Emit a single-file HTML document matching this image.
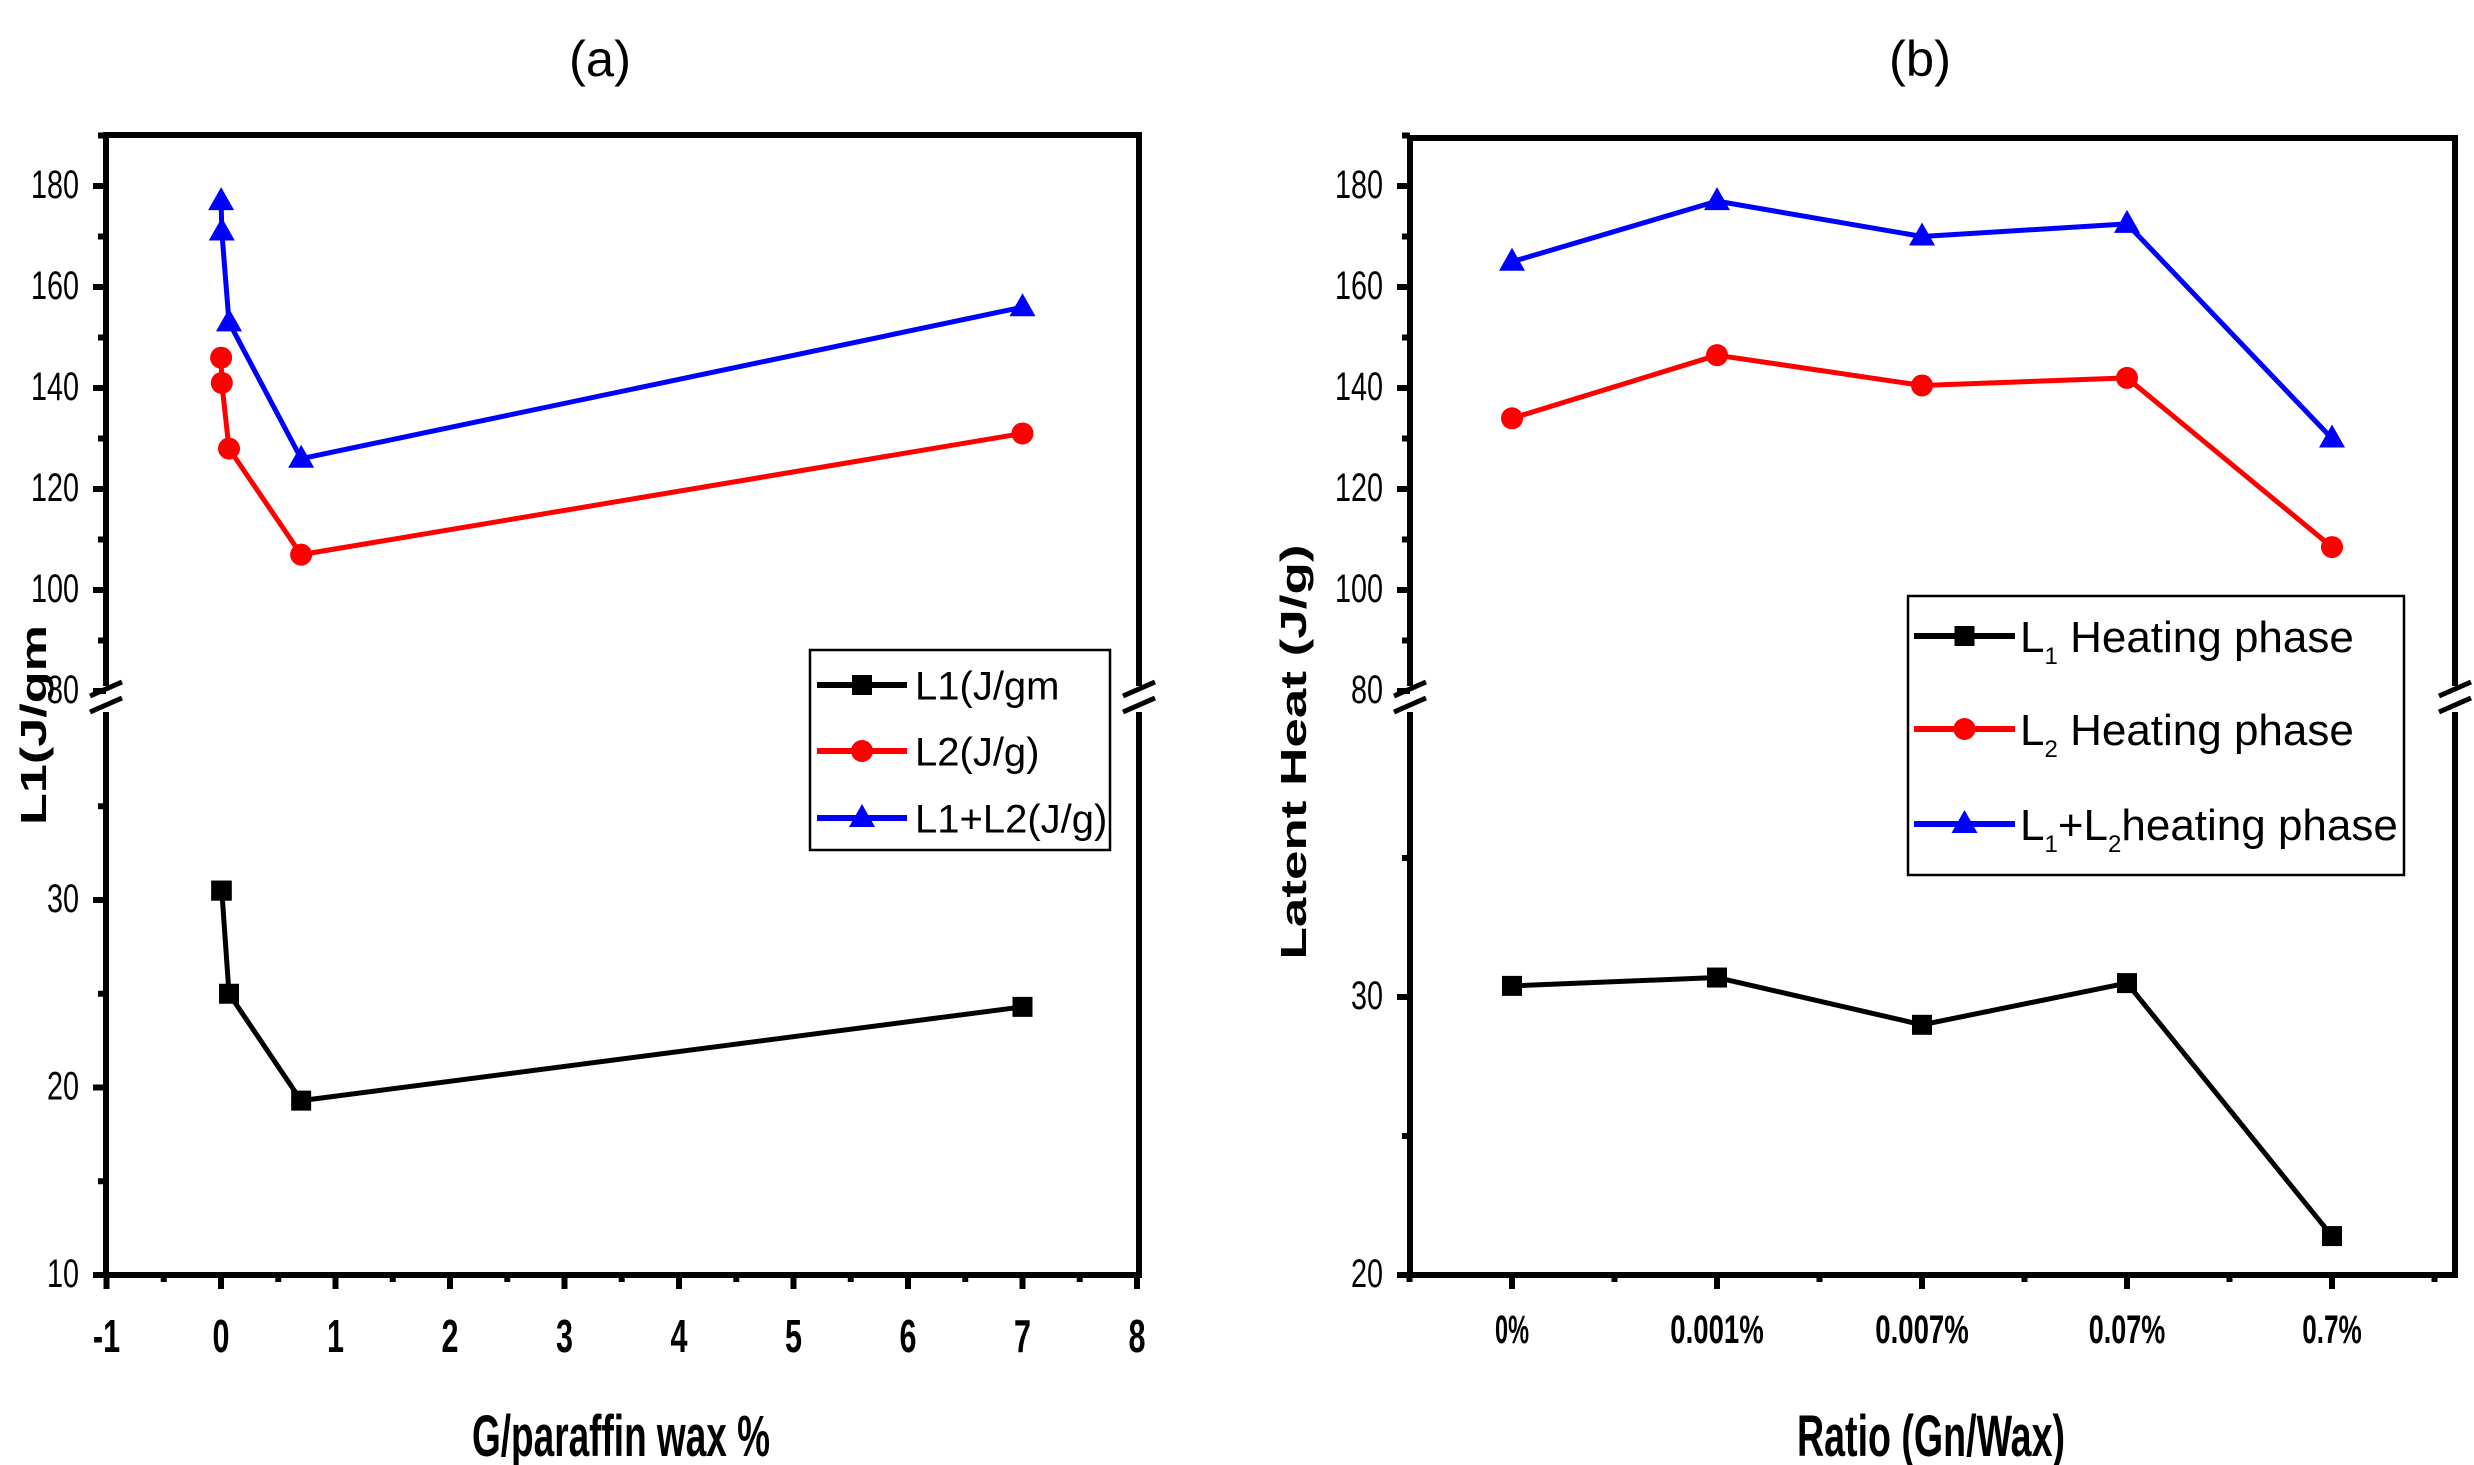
<!DOCTYPE html>
<html><head><meta charset="utf-8"><style>
html,body{margin:0;padding:0;background:#fff}
svg{display:block}
text{font-family:"Liberation Sans",sans-serif}
</style></head><body>
<svg id="chart" width="2474" height="1465" viewBox="0 0 2474 1465" xmlns="http://www.w3.org/2000/svg">
<text x="600" y="76" font-size="50" text-anchor="middle" textLength="62" lengthAdjust="spacingAndGlyphs">(a)</text>
<text x="1920" y="76" font-size="50" text-anchor="middle" textLength="62" lengthAdjust="spacingAndGlyphs">(b)</text>
<g id="pa"></g>
<g id="pb"></g>
</svg>
<script>
// Panel (a) data
const aX = [0.001, 0.007, 0.07, 0.7, 7];
const aL1 = [30.5, 30.5, 25, 19.3, 24.3];
const aL2 = [146, 141, 128, 107, 131];
const aL12 = [177, 171, 153, 126, 156];
const aXTicks = [-1, 0, 1, 2, 3, 4, 5, 6, 7, 8];
const upperTicks = [80, 100, 120, 140, 160, 180];
const lowerTicks = [10, 20, 30];
// Panel (b) data
const bCats = ["0%", "0.001%", "0.007%", "0.07%", "0.7%"];
const bL1 = [30.4, 30.7, 29.0, 30.5, 21.4];
const bL2 = [134, 146.5, 140.5, 142, 108.5];
const bL12 = [165, 177, 170, 172.5, 130];
const bLowerTicks = [20, 30];

const NS = "http://www.w3.org/2000/svg";
function mk(parent, tag, attrs, txt) {
  const e = document.createElementNS(NS, tag);
  for (const k in attrs) e.setAttribute(k, attrs[k]);
  if (txt !== undefined) e.textContent = txt;
  parent.appendChild(e);
  return e;
}
function tw(s, cw) { let w = 0; for (const c of s) w += (c === '.' ? cw * 0.5 : c === '-' ? cw * 0.6 : cw); return w; }
function label(g, x, y, s, anchor, fs, cw, weight, name) {
  const t = mk(g, 'text', {x, y, 'text-anchor': anchor, 'font-size': fs, 'font-weight': weight, textLength: tw(s, cw), lengthAdjust: 'spacingAndGlyphs'}, s);
  
  
  return t;
}

function yUpper(v) { return 691 - (v - 80) * 101 / 20; }

function marker(g, type, x, y, color) {
  let m;
  if (type === 'sq') m = mk(g, 'rect', {x: x - 10, y: y - 10, width: 20, height: 20, fill: color});
  else if (type === 'ci') m = mk(g, 'circle', {cx: x, cy: y, r: 11, fill: color});
  else m = mk(g, 'polygon', {points: `${x},${y - 14} ${x - 13},${y + 9} ${x + 13},${y + 9}`, fill: color});
  
  
}
function series(g, xs, ys, color, type, name) {
  const s = mk(g, 'g', {});
  
  
  const pl = mk(s, 'polyline', {points: xs.map((x, i) => x + ',' + ys[i]).join(' '), fill: 'none', stroke: color, 'stroke-width': 5, 'stroke-linejoin': 'round'});
  
  
  xs.forEach((x, i) => marker(s, type, x, ys[i], color));
}
function frame(g, L, R, T, B, breakY) {
  mk(g, 'rect', {x: L, y: T, width: R - L, height: B - T, fill: 'none', stroke: '#000', 'stroke-width': 6});
  [L, R].forEach(x => {
    mk(g, 'rect', {x: x - 5, y: breakY - 4, width: 10, height: 26, fill: '#fff'});
    mk(g, 'line', {x1: x - 16, y1: breakY + 6, x2: x + 16, y2: breakY - 8, stroke: '#000', 'stroke-width': 5});
    mk(g, 'line', {x1: x - 16, y1: breakY + 22, x2: x + 16, y2: breakY + 8, stroke: '#000', 'stroke-width': 5});
  });
}
function legend(g, x, y, w, h, rowY, lx1, lx2, tx, items, fs) {
  const lg = mk(g, 'g', {});
  
  
  mk(lg, 'rect', {x, y, width: w, height: h, fill: '#fff', stroke: '#000', 'stroke-width': 2.5});
  items.forEach((it, i) => {
    const e = mk(lg, 'g', {});
    
    
    mk(e, 'line', {x1: lx1, y1: rowY[i], x2: lx2, y2: rowY[i], stroke: it.c, 'stroke-width': 6});
    marker(e, it.t, (lx1 + lx2) / 2, rowY[i], it.c);
    const t = mk(e, 'text', {x: tx, y: rowY[i] + fs * 0.36, 'font-size': fs});
    t.innerHTML = it.html;
  });
}
function yTicks(g, L, y, majors, minorStep) {
  majors.forEach(v => {
    mk(g, 'line', {x1: L - 13, y1: y(v), x2: L, y2: y(v), stroke: '#000', 'stroke-width': 6});
    mk(g, 'line', {x1: L - 8, y1: y(v + minorStep), x2: L, y2: y(v + minorStep), stroke: '#000', 'stroke-width': 6});
    label(g, L - 27, y(v) + 12, String(v), 'end', 40, 16, 'normal', 'y-tick-label');
  });
}

// ---------- Panel A ----------
(function () {
  const g = document.getElementById('pa');
  const L = 106, R = 1139, T = 135, B = 1275;
  const xA = v => 221 + v * 114.5;
  const yLow = v => 1275 - (v - 10) * 187.5 / 10;
  const y = v => v >= 60 ? yUpper(v) : yLow(v);
  frame(g, L, R, T, B, 690);
  aXTicks.forEach(v => {
    mk(g, 'line', {x1: xA(v), y1: B, x2: xA(v), y2: B + 14, stroke: '#000', 'stroke-width': 6});
    if (v < 8) mk(g, 'line', {x1: xA(v + 0.5), y1: B, x2: xA(v + 0.5), y2: B + 7, stroke: '#000', 'stroke-width': 6});
    label(g, xA(v), 1352, String(v), 'middle', 46, 17, 'bold', 'x-tick-label');
  });
  yTicks(g, L, y, upperTicks, 10);
  yTicks(g, L, y, lowerTicks, 5);
  const xs = aX.map(xA);
  series(g, xs, aL1.map(y), '#000', 'sq', 'series-l1');
  series(g, xs, aL2.map(y), '#f00', 'ci', 'series-l2');
  series(g, xs, aL12.map(y), '#00f', 'tr', 'series-l1-plus-l2');
  const xl = mk(g, 'text', {x: 621, y: 1456, 'text-anchor': 'middle', textLength: 298, lengthAdjust: 'spacingAndGlyphs', style: 'font-size:58px;font-weight:bold'}, 'G/paraffin wax %');
  
  
  const yl = mk(g, 'text', {x: 0, y: 0, transform: 'translate(46,725) rotate(-90)', 'text-anchor': 'middle', textLength: 200, lengthAdjust: 'spacingAndGlyphs', style: 'font-size:36px;font-weight:bold'}, 'L1(J/gm');
  
  
  legend(g, 810, 650, 300, 200, [685, 751, 818], 817, 907, 915, [
    {c: '#000', t: 'sq', html: 'L1(J/gm'},
    {c: '#f00', t: 'ci', html: 'L2(J/g)'},
    {c: '#00f', t: 'tr', html: 'L1+L2(J/g)'}], 40);
})();

// ---------- Panel B ----------
(function () {
  const g = document.getElementById('pb');
  const L = 1410, R = 2455, T = 138, B = 1275;
  const xB = i => 1512 + i * 205;
  const yLow = v => 1275 - (v - 20) * 278 / 10;
  const y = v => v >= 60 ? yUpper(v) : yLow(v);
  frame(g, L, R, T, B, 690);
  bCats.forEach((c, i) => {
    mk(g, 'line', {x1: xB(i), y1: B, x2: xB(i), y2: B + 14, stroke: '#000', 'stroke-width': 6});
    mk(g, 'line', {x1: xB(i) - 102.5, y1: B, x2: xB(i) - 102.5, y2: B + 7, stroke: '#000', 'stroke-width': 6});
    label(g, xB(i), 1343, c, 'middle', 40, 17, 'bold', 'x-tick-label');
  });
  mk(g, 'line', {x1: xB(4) + 102.5, y1: B, x2: xB(4) + 102.5, y2: B + 7, stroke: '#000', 'stroke-width': 6});
  yTicks(g, L, y, upperTicks, 10);
  yTicks(g, L, y, bLowerTicks, 5);
  const xs = bCats.map((c, i) => xB(i));
  series(g, xs, bL1.map(y), '#000', 'sq', 'series-l1-heating');
  series(g, xs, bL2.map(y), '#f00', 'ci', 'series-l2-heating');
  series(g, xs, bL12.map(y), '#00f', 'tr', 'series-l1-plus-l2-heating');
  const xl = mk(g, 'text', {x: 1931, y: 1456, 'text-anchor': 'middle', textLength: 268, lengthAdjust: 'spacingAndGlyphs', style: 'font-size:58px;font-weight:bold'}, 'Ratio (Gn/Wax)');
  
  
  const yl = mk(g, 'text', {x: 0, y: 0, transform: 'translate(1306,752) rotate(-90)', 'text-anchor': 'middle', textLength: 415, lengthAdjust: 'spacingAndGlyphs', style: 'font-size:36px;font-weight:bold'}, 'Latent Heat (J/g)');
  
  
  legend(g, 1908, 596, 496, 279, [636, 729, 824], 1914, 2015, 2020, [
    {c: '#000', t: 'sq', html: 'L<tspan font-size="24" dy="12">1</tspan><tspan dy="-12"> Heating phase</tspan>'},
    {c: '#f00', t: 'ci', html: 'L<tspan font-size="24" dy="12">2</tspan><tspan dy="-12"> Heating phase</tspan>'},
    {c: '#00f', t: 'tr', html: 'L<tspan font-size="24" dy="12">1</tspan><tspan dy="-12">+L</tspan><tspan font-size="24" dy="12">2</tspan><tspan dy="-12">heating phase</tspan>'}], 44);
})();
</script>
</body></html>
